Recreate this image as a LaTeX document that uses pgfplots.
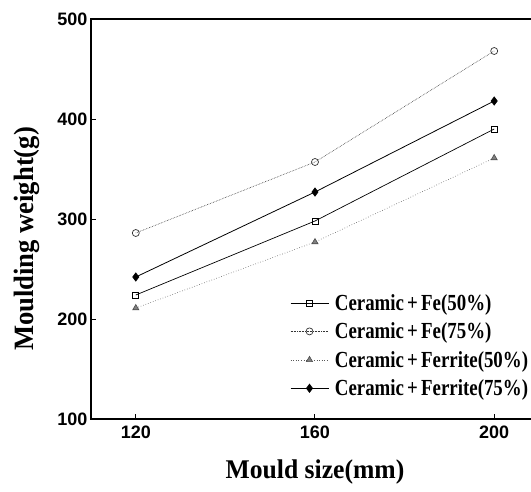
\documentclass[border=0pt]{standalone}
\usepackage{fontspec}
\setmainfont{Liberation Serif}
\newfontfamily\tickfont{Liberation Sans}
\newfontfamily\legfont[FakeStretch=0.82]{Liberation Serif}
\newfontfamily\labfont[FakeStretch=0.95]{Liberation Serif}
\usepackage{pgfplots}
\pgfplotsset{compat=1.18}
\newcommand{\pl}{\hspace{0.14em}+\hspace{0.14em}}

\begin{document}
\begin{tikzpicture}
\begin{axis}[
    at={(0,0)}, anchor=south west,
    scale only axis,
    width=448pt, height=400pt,
    xmin=110, xmax=210,
    ymin=100, ymax=500,
    xtick={120,160,200},
    ytick={100,200,300,400,500},
    xtick pos=bottom, ytick pos=left,
    tick align=inside,
    major tick length=5pt,
    axis line style={line width=1.2pt},
    every tick/.style={black, line width=1pt},
    /pgf/number format/assume math mode=true,
    tick label style={font=\tickfont\bfseries\fontsize{18}{20}\selectfont},
    xticklabel style={yshift=-3pt},
    xlabel={Mould size(mm)},
    ylabel={Moulding weight(g)},
    xlabel style={font=\labfont\bfseries\fontsize{27}{30}\selectfont,
      at={(axis description cs:0.5,-0.1325)}, anchor=center},
    ylabel style={font=\labfont\bfseries\fontsize{28}{30}\selectfont,
      at={(axis description cs:-0.143,0.45)}, anchor=center},
    legend cell align=left,
    legend style={draw=none, fill=none,
      at={(axis description cs:0.444,0.3175)}, anchor=north west,
      font=\legfont\bfseries\fontsize{23}{25}\selectfont,
      row sep=7pt, column sep=4pt, inner sep=0pt},
    legend image code/.code={
      \draw[mark repeat=2,mark phase=2,#1]
        plot coordinates {(0pt,0pt) (19pt,0pt) (38pt,0pt)};},
  ]

  %% Ceramic + Fe(50%)
  \addplot[black, line width=0.7pt, mark=square, mark size=3pt,
           mark options={solid, fill=white, line width=0.8pt}] coordinates {
    (120, 224) (160, 298) (200, 390)
  };
  \addlegendentry{Ceramic\pl Fe(50\%)}

  %% Ceramic + Fe(75%)
  \addplot[black!80, line width=0.6pt, densely dotted, mark=o, mark size=3.5pt,
           mark options={solid, fill=white, line width=0.7pt}] coordinates {
    (120, 286) (160, 357) (200, 468)
  };
  \addlegendentry{Ceramic\pl Fe(75\%)}

  %% Ceramic + Ferrite(50%)
  \addplot[black!65, line width=0.6pt, dotted, mark=triangle*, mark size=3.5pt,
           mark options={solid, fill=gray, draw=black!70}] coordinates {
    (120, 211) (160, 277) (200, 361)
  };
  \addlegendentry{Ceramic\pl Ferrite(50\%)}

  %% Ceramic + Ferrite(75%)
  \addplot[black, line width=0.8pt, mark=diamond*, mark size=4pt,
           mark options={solid, fill=black}] coordinates {
    (120, 242) (160, 327) (200, 418)
  };
  \addlegendentry{Ceramic\pl Ferrite(75\%)}

\end{axis}
\pgfresetboundingbox
\path[use as bounding box] (-91pt,-72pt) rectangle (440pt,419pt);
\end{tikzpicture}
\end{document}
